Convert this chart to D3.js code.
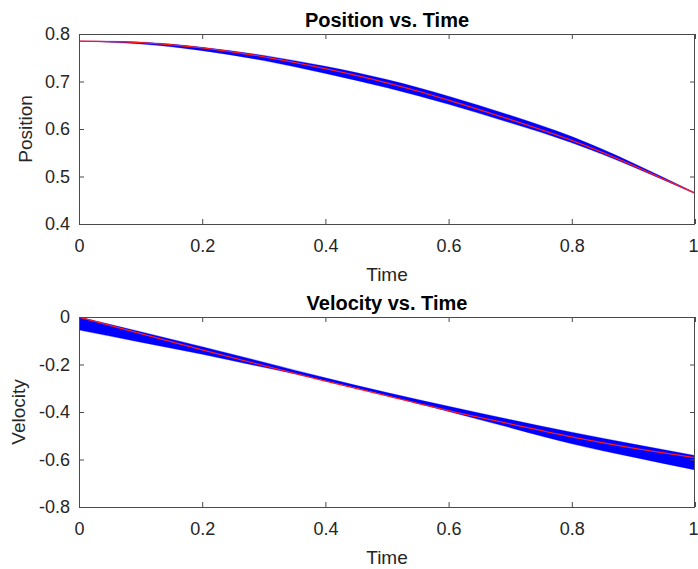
<!DOCTYPE html>
<html>
<head>
<meta charset="utf-8">
<script src="https://cdn.jsdelivr.net/npm/d3@7"></script>
<style>
  html, body { margin: 0; padding: 0; background: #fff; }
  svg { display: block; font-family: "Liberation Sans", Arial, Helvetica, sans-serif; }
</style>
</head>
<body>
<svg id="chart" width="698" height="569"></svg>
<script>
// ---- Data ----
const time = [0, 0.1, 0.2, 0.3, 0.4, 0.5, 0.6, 0.7, 0.8, 0.9, 1.0];

// Position: reference (red) and envelope of the blue ensemble
const posRed        = [0.785, 0.782, 0.771, 0.752, 0.727, 0.697, 0.661, 0.620, 0.576, 0.523, 0.465];
const posBlueUpper  = [0.785, 0.783, 0.772, 0.755, 0.732, 0.704, 0.669, 0.629, 0.584, 0.528, 0.466];
const posBlueLower  = [0.785, 0.779, 0.765, 0.744, 0.717, 0.687, 0.652, 0.613, 0.571, 0.520, 0.464];

// Velocity: reference (red) and envelope of the blue ensemble
const velRed        = [0, -0.070, -0.138, -0.205, -0.270, -0.332, -0.394, -0.450, -0.505, -0.552, -0.592];
const velBlueUpper  = [0, -0.062, -0.125, -0.190, -0.256, -0.318, -0.376, -0.432, -0.485, -0.535, -0.583];
const velBlueLower  = [-0.055, -0.106, -0.157, -0.212, -0.268, -0.330, -0.398, -0.466, -0.534, -0.590, -0.644];

// Ticks
const xTicks   = [0, 0.2, 0.4, 0.6, 0.8, 1];
const xTickLabels = ["0", "0.2", "0.4", "0.6", "0.8", "1"];
const posTicks = [0.4, 0.5, 0.6, 0.7, 0.8];
const posTickLabels = ["0.4", "0.5", "0.6", "0.7", "0.8"];
const velTicks = [-0.8, -0.6, -0.4, -0.2, 0];
const velTickLabels = ["-0.8", "-0.6", "-0.4", "-0.2", "0"];

const panels = [
  { title: "Position vs. Time", ylabel: "Position", xlabel: "Time",
    domain: [0.4, 0.8], yTicks: posTicks, yTickLabels: posTickLabels,
    red: posRed, upper: posBlueUpper, lower: posBlueLower,
    top: 34, bottom: 224, ylabelX: 32 },
  { title: "Velocity vs. Time", ylabel: "Velocity", xlabel: "Time",
    domain: [-0.8, 0], yTicks: velTicks, yTickLabels: velTickLabels,
    red: velRed, upper: velBlueUpper, lower: velBlueLower,
    top: 317, bottom: 507, ylabelX: 25 }
];

const svg = d3.select("#chart");
const left = 79, right = 695;
const axisColor = "#4a4a4a";
const textColor = "#262626";
const tickLen = 5;

const x = d3.scaleLinear().domain([0, 1]).range([left, right]);
const curve = d3.curveNatural;

panels.forEach(p => {
  const y = d3.scaleLinear().domain(p.domain).range([p.bottom, p.top]);
  const g = svg.append("g");
  const rows = time.map((t, i) => ({ t, r: p.red[i], u: p.upper[i], l: p.lower[i] }));

  const clipId = "clip-" + p.ylabel;
  svg.append("clipPath").attr("id", clipId)
    .append("rect").attr("x", left).attr("y", p.top)
    .attr("width", right - left).attr("height", p.bottom - p.top);

  const plot = g.append("g").attr("clip-path", `url(#${clipId})`);

  // blue ensemble band
  plot.append("path").datum(rows)
    .attr("d", d3.area().x(d => x(d.t)).y0(d => y(d.l)).y1(d => y(d.u)).curve(curve))
    .attr("fill", "#0000ff").attr("stroke", "#0000ff").attr("stroke-width", 0.6)
    .attr("stroke-opacity", 0.5);

  // red reference line
  plot.append("path").datum(rows)
    .attr("d", d3.line().x(d => x(d.t)).y(d => y(d.r)).curve(curve))
    .attr("fill", "none").attr("stroke", "#ff1a1a").attr("stroke-width", 1.3);

  // Axes: bottom with labels, top/right mirror ticks
  const xAxis = d3.axisBottom(x).tickValues(xTicks)
    .tickFormat((d, i) => xTickLabels[i]).tickSizeInner(-tickLen).tickSizeOuter(0).tickPadding(14);
  const gx = g.append("g").attr("transform", `translate(0,${p.bottom})`).call(xAxis);
  const xTop = d3.axisTop(x).tickValues(xTicks).tickFormat("").tickSizeInner(-tickLen).tickSizeOuter(0);
  const gxt = g.append("g").attr("transform", `translate(0,${p.top})`).call(xTop);

  const yAxis = d3.axisLeft(y).tickValues(p.yTicks)
    .tickFormat((d, i) => p.yTickLabels[i]).tickSizeInner(-tickLen).tickSizeOuter(0).tickPadding(14);
  const gy = g.append("g").attr("transform", `translate(${left},0)`).call(yAxis);
  const yRight = d3.axisRight(y).tickValues(p.yTicks).tickFormat("").tickSizeInner(-tickLen).tickSizeOuter(0);
  const gyr = g.append("g").attr("transform", `translate(${right},0)`).call(yRight);

  [gx, gxt, gy, gyr].forEach(a => {
    a.select(".domain").remove();
    a.selectAll(".tick line").attr("stroke", axisColor).attr("stroke-width", 1);
    a.selectAll(".tick text").attr("fill", textColor).attr("font-size", 18)
      .attr("font-family", "Liberation Sans, Arial, sans-serif");
  });
  gy.selectAll(".tick text").attr("dx", "5");
  gx.selectAll(".tick text").attr("dy", "0.71em").attr("y", 15);
  // keep the last x label ("1") inside the page edge
  gx.selectAll(".tick text").filter((d, i) => i === xTicks.length - 1).attr("dx", "-2");

  // box
  g.append("rect").attr("x", left + 0.5).attr("y", p.top + 0.5)
    .attr("width", right - left - 1).attr("height", p.bottom - p.top)
    .attr("fill", "none").attr("stroke", axisColor).attr("stroke-width", 1);

  // title
  g.append("text").attr("x", (left + right) / 2).attr("y", p.top - 7)
    .attr("text-anchor", "middle").attr("font-weight", "bold").attr("font-size", 20)
    .attr("fill", "#000").text(p.title);

  // x label
  g.append("text").attr("x", (left + right) / 2).attr("y", p.bottom + 57)
    .attr("text-anchor", "middle").attr("font-size", 19).attr("fill", textColor).text(p.xlabel);

  // y label
  g.append("text")
    .attr("transform", `translate(${p.ylabelX},${(p.top + p.bottom) / 2}) rotate(-90)`)
    .attr("text-anchor", "middle").attr("font-size", 19).attr("fill", textColor).text(p.ylabel);
});
</script>
</body>
</html>
